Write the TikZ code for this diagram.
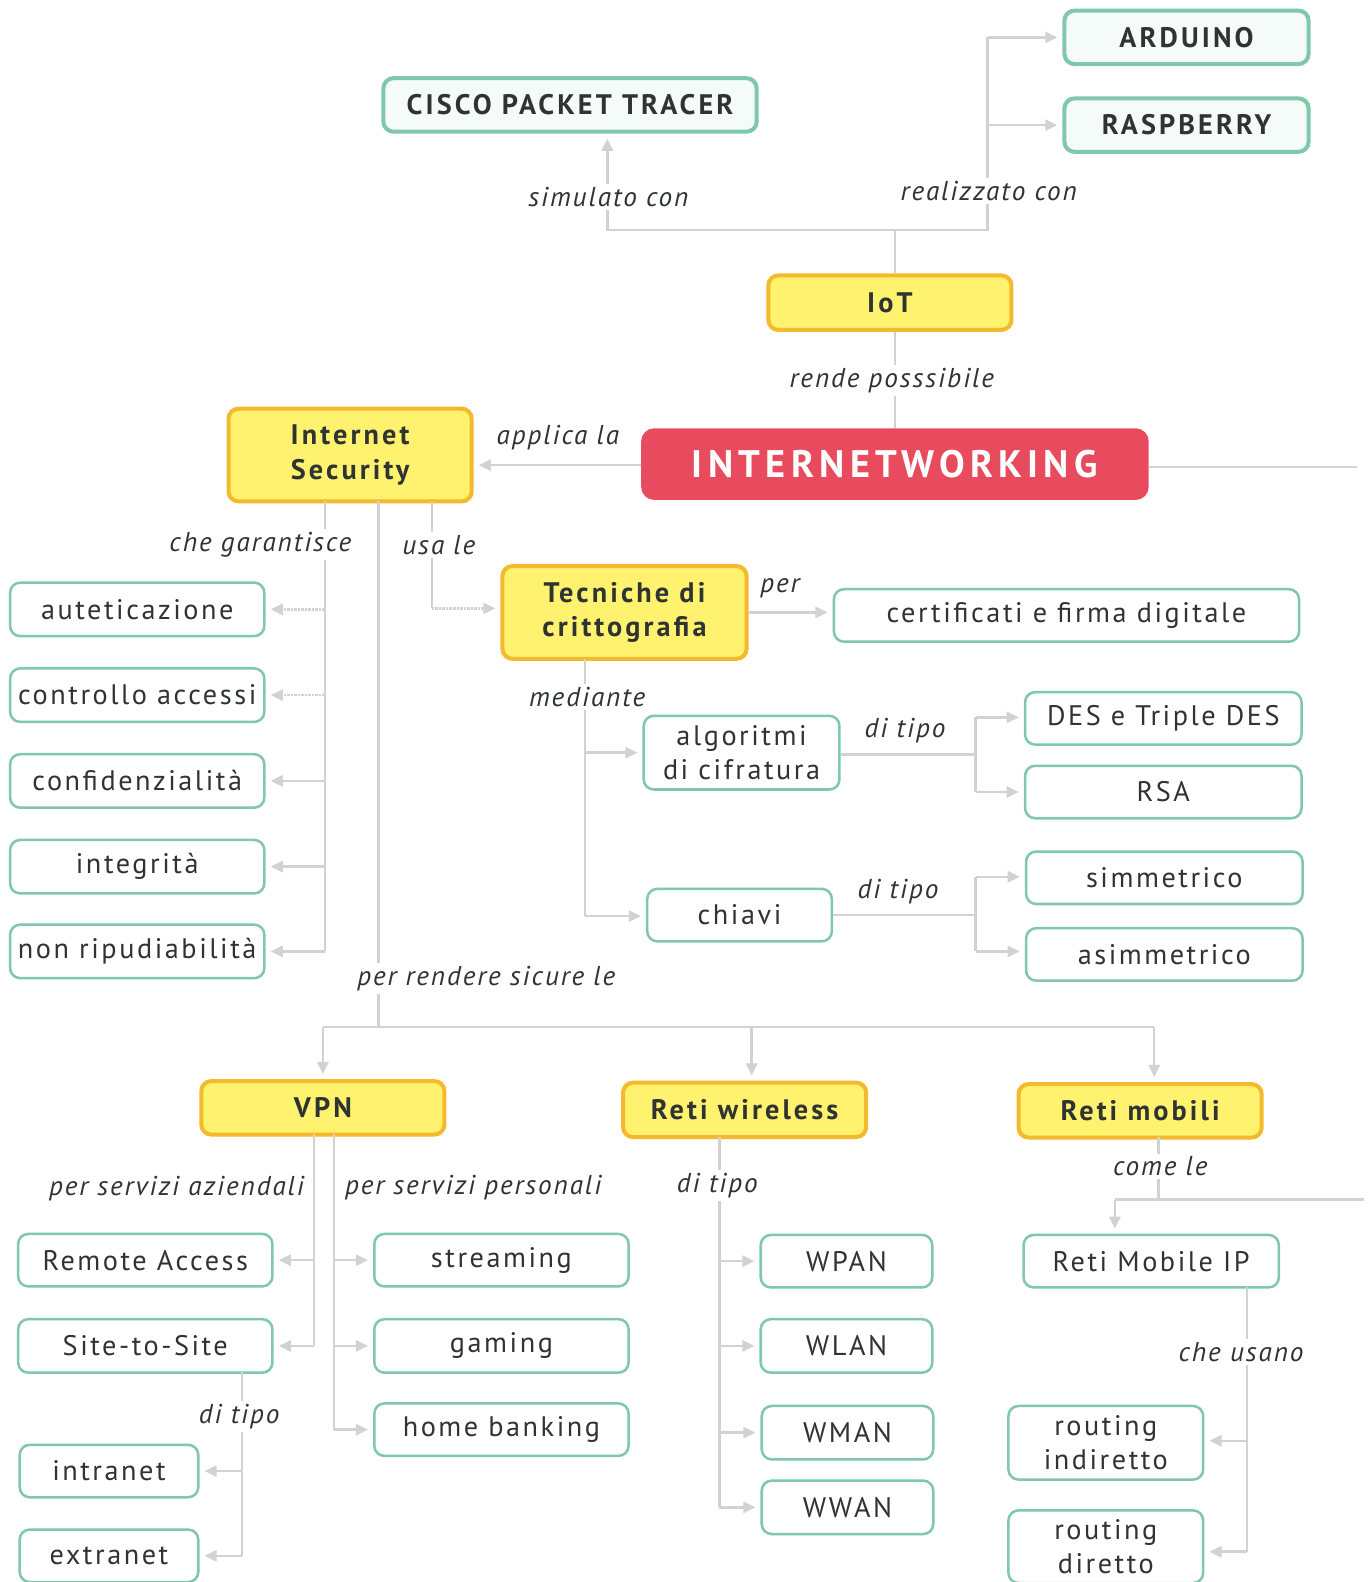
\documentclass[tikz,border=0pt]{standalone}
\usepackage{fontspec}
\setmainfont{PT Sans}[LetterSpace=9]
\usetikzlibrary{arrows.meta}
\definecolor{boxgreen}{HTML}{7FC8A9}
\definecolor{mintfill}{HTML}{F4FBF8}
\definecolor{keyyellow}{HTML}{FFF26E}
\definecolor{keyorange}{HTML}{F5B92E}
\definecolor{hubred}{HTML}{E84B5D}
\definecolor{linkgray}{HTML}{D2D2CE}
\definecolor{textdark}{HTML}{2F3433}
\tikzset{
  plainbox/.style={draw=boxgreen, line width=2.5pt, rounded corners=10pt, fill=white,
    inner sep=0pt, text=textdark, align=center, font=\fontsize{28}{34}\selectfont},
  topbox/.style={plainbox, line width=4pt, fill=mintfill,
    font=\bfseries\fontsize{28}{34}\selectfont\addfontfeature{LetterSpace=11}},
  keybox/.style={draw=keyorange, line width=4pt, rounded corners=10pt, fill=keyyellow,
    inner sep=0pt, text=textdark, align=center,
    font=\bfseries\fontsize{28}{34}\selectfont\addfontfeature{LetterSpace=11}},
  hubbox/.style={draw=hubred, line width=2pt, rounded corners=12pt, fill=hubred,
    inner sep=0pt, text=white, font=\bfseries\fontsize{38}{44}\selectfont\addfontfeature{LetterSpace=14}},
  link/.style={draw=linkgray, line width=2.5pt},
  arr/.style={link, -{Triangle[length=12pt,width=11pt]}, shorten >=5pt},
  dotarr/.style={arr, densely dotted},
  lbl/.style={fill=white, inner sep=3pt, text=textdark,
    font=\itshape\fontsize{27}{30}\selectfont\addfontfeature{LetterSpace=7}},
  nlbl/.style={lbl, fill=none},
}
\begin{document}
\begin{tikzpicture}[x=1pt,y=-1pt]
\fill[white] (0,0) rectangle (1355,1568);
\useasboundingbox (0,0) rectangle (1355,1568);

% ---- top part
\node[topbox, minimum width=242pt, minimum height=53pt] (arduino) at (1176,37) {ARDUINO};
\node[topbox, minimum width=242pt, minimum height=53pt] (raspberry) at (1176,124) {RASPBERRY};
\node[topbox, minimum width=370pt, minimum height=53pt] (cisco) at (565,104) {CISCO PACKET TRACER};
\node[keybox, minimum width=241pt, minimum height=54pt] (iot) at (882,300) {IoT};
\node[hubbox, minimum width=501pt, minimum height=69pt] (hub) at (887,460) {INTERNETWORKING};

% ---- security and cryptography
\node[keybox, minimum width=241pt, minimum height=92pt] (sec) at (347,451) {Internet\\Security};
\node[keybox, minimum width=242pt, minimum height=92pt] (crypt) at (619,607) {Tecniche di\\crittografia};
\node[plainbox, minimum width=461pt, minimum height=52pt] (cert) at (1057,610) {certificati e firma digitale};

\node[plainbox, minimum width=252pt, minimum height=53pt] (aut) at (136,604) {auteticazione};
\node[plainbox, minimum width=252pt, minimum height=53pt] (acc) at (136,689) {controllo accessi};
\node[plainbox, minimum width=252pt, minimum height=53pt] (conf) at (136,774) {confidenzialità};
\node[plainbox, minimum width=252pt, minimum height=53pt] (integ) at (136,859) {integrità};
\node[plainbox, minimum width=252pt, minimum height=53pt] (nonrip) at (136,943) {non ripudiabilità};

\node[plainbox, minimum width=194pt, minimum height=73pt] (alg) at (735,746) {algoritmi\\di cifratura};
\node[plainbox, minimum width=183pt, minimum height=52pt] (chiavi) at (733,907) {chiavi};
\node[plainbox, minimum width=274pt, minimum height=52pt] (des) at (1153,712) {DES e Triple DES};
\node[plainbox, minimum width=274pt, minimum height=52pt] (rsa) at (1153,785) {RSA};
\node[plainbox, minimum width=274pt, minimum height=52pt] (simm) at (1154,870) {simmetrico};
\node[plainbox, minimum width=274pt, minimum height=52pt] (asimm) at (1154,946) {asimmetrico};

% ---- network families
\node[keybox, minimum width=241pt, minimum height=53pt] (vpn) at (320,1098) {VPN};
\node[keybox, minimum width=241pt, minimum height=54pt] (wifi) at (738,1100) {Reti wireless};
\node[keybox, minimum width=241pt, minimum height=53pt] (mob) at (1130,1101) {Reti mobili};

\node[plainbox, minimum width=252pt, minimum height=52pt] (remote) at (144,1249) {Remote Access};
\node[plainbox, minimum width=252pt, minimum height=53pt] (s2s) at (144,1334) {Site-to-Site};
\node[plainbox, minimum width=177pt, minimum height=52pt] (intra) at (108,1458) {intranet};
\node[plainbox, minimum width=177pt, minimum height=52pt] (extra) at (108,1542) {extranet};

\node[plainbox, minimum width=252pt, minimum height=52pt] (stream) at (497,1249) {streaming};
\node[plainbox, minimum width=252pt, minimum height=53pt] (gaming) at (497,1334) {gaming};
\node[plainbox, minimum width=252pt, minimum height=52pt] (bank) at (497,1417) {home banking};

\node[plainbox, minimum width=170pt, minimum height=52pt] (wpan) at (839,1250) {WPAN};
\node[plainbox, minimum width=170pt, minimum height=53pt] (wlan) at (839,1334) {WLAN};
\node[plainbox, minimum width=170pt, minimum height=53pt] (wman) at (840,1420) {WMAN};
\node[plainbox, minimum width=170pt, minimum height=53pt] (wwan) at (840,1494) {WWAN};

\node[plainbox, minimum width=253pt, minimum height=52pt] (mip) at (1141,1250) {Reti Mobile IP};
\node[plainbox, minimum width=193pt, minimum height=73pt] (rind) at (1096,1430) {routing\\indiretto};
\node[plainbox, minimum width=193pt, minimum height=72pt] (rdir) at (1096,1533) {routing\\diretto};

% ---- connectors: IoT
\coordinate (jIot) at (887,228);
\coordinate (jSim) at (602,228);
\coordinate (jReal) at (979,228);
\draw[link] (iot.north -| jIot) -- (jIot);
\draw[arr] (jIot) -- (jSim) -- (jSim |- cisco.south);
\draw[link] (jIot) -- (jReal) -- (979,37);
\draw[arr] (979,37) -- (arduino.west);
\draw[arr] (979,124) -- (raspberry.west);
\draw[link] (iot.south -| jIot) -- (hub.north -| jIot);

% ---- connectors: INTERNETWORKING
\coordinate (hubOut) at (1345,463);
\draw[arr] (hub.west |- 0,461) -- (sec.east |- 0,461);
\draw[link] (hub.east |- hubOut) -- (hubOut);

% ---- connectors: Internet Security
\coordinate (gTop) at (322,497);
\coordinate (gBot) at (322,943);
\draw[link] (gTop) -- (gBot);
\draw[dotarr] (322,604) -- (aut.east);
\draw[dotarr] (322,689) -- (acc.east);
\draw[arr] (322,774) -- (conf.east);
\draw[arr] (322,859) -- (integ.east);
\draw[arr] (gBot) -- (nonrip.east);

\coordinate (uTop) at (428,497);
\coordinate (uBend) at (428,603);
\draw[link] (uTop) -- (uBend);
\draw[dotarr] (uBend) -- (crypt.west |- uBend);

\coordinate (pTop) at (375,497);
\coordinate (pJ) at (375,1018);
\coordinate (pL) at (320,1018);
\coordinate (pM) at (745,1018);
\coordinate (pR) at (1144,1018);
\draw[link] (pTop) -- (pJ);
\draw[link] (pL) -- (pR);
\draw[arr] (pL) -- (vpn.north -| pL);
\draw[arr] (pM) -- (wifi.north -| pM);
\draw[arr] (pR) -- (mob.north -| pR);

% ---- connectors: cryptography
\draw[arr] (crypt.east |- 0,607) -- (cert.west |- 0,607);
\coordinate (mTop) at (580,653);
\coordinate (mBot) at (580,908);
\draw[link] (mTop) -- (mBot);
\draw[arr] (580,746) -- (alg.west |- 0,746);
\draw[arr] (mBot) -- (chiavi.west |- mBot);

\coordinate (aJ) at (967,748);
\draw[link] (alg.east |- aJ) -- (aJ);
\draw[link] (967,711) -- (967,785);
\draw[arr] (967,711) -- (des.west |- 0,711);
\draw[arr] (967,785) -- (rsa.west |- 0,785);

\coordinate (cJ) at (967,907);
\draw[link] (chiavi.east |- cJ) -- (cJ);
\draw[link] (967,869) -- (967,943);
\draw[arr] (967,869) -- (simm.west |- 0,869);
\draw[arr] (967,943) -- (asimm.west |- 0,943);

% ---- connectors: VPN
\coordinate (vA) at (311,1124);
\coordinate (vAb) at (311,1334);
\draw[link] (vA) -- (vAb);
\draw[arr] (311,1249) -- (remote.east);
\draw[arr] (vAb) -- (s2s.east);
\coordinate (vP) at (331,1124);
\coordinate (vPb) at (331,1417);
\draw[link] (vP) -- (vPb);
\draw[arr] (331,1249) -- (stream.west);
\draw[arr] (331,1334) -- (gaming.west);
\draw[arr] (vPb) -- (bank.west);

\coordinate (sT) at (240,1360);
\coordinate (sB) at (240,1542);
\draw[link] (sT) -- (sB);
\draw[arr] (240,1458) -- (intra.east);
\draw[arr] (sB) -- (extra.east);

% ---- connectors: wireless
\coordinate (wT) at (713,1127);
\coordinate (wB) at (713,1494);
\draw[link] (wT) -- (wB);
\draw[arr] (713,1250) -- (wpan.west);
\draw[arr] (713,1334) -- (wlan.west);
\draw[arr] (713,1420) -- (wman.west);
\draw[arr] (wB) -- (wwan.west);

% ---- connectors: mobile
\coordinate (oT) at (1148,1127);
\coordinate (oJ) at (1148,1189);
\coordinate (oL) at (1105,1189);
\coordinate (oR) at (1352,1189);
\draw[link] (oT) -- (oJ);
\draw[link] (oL) -- (oR);
\draw[arr] (oL) -- (mip.north -| oL);
\coordinate (iT) at (1236,1276);
\coordinate (iB) at (1236,1538);
\draw[link] (iT) -- (iB);
\draw[arr] (1236,1428) -- (rind.east |- 0,1428);
\draw[arr] (iB) -- (rdir.east |- iB);

% ---- link labels
\node[lbl] (l1) at (603,195) {simulato con};
\node[lbl] (l2) at (980,189) {realizzato con};
\node[lbl] (l3) at (884,377) {rende posssibile};
\node[nlbl] (l4) at (553,434) {applica la};
\node[lbl] (l5) at (258,540) {che garantisce};
\node[lbl] (l6) at (435,540) {usa le};
\node[nlbl] (l7) at (773,583) {per};
\node[lbl] (l8) at (582,691) {mediante};
\node[nlbl] (l9) at (897,724) {di tipo};
\node[nlbl] (l10) at (890,884) {di tipo};
\node[lbl] (l11) at (482,970) {per rendere sicure le};
\node[nlbl] (l12) at (175,1178) {per servizi aziendali};
\node[nlbl] (l13) at (469,1177) {per servizi personali};
\node[lbl] (l14) at (711,1175) {di tipo};
\node[lbl] (l15) at (1150,1156) {come le};
\node[lbl] (l16) at (237,1404) {di tipo};
\node[lbl] (l17) at (1230,1340) {che usano};
\end{tikzpicture}
\end{document}
